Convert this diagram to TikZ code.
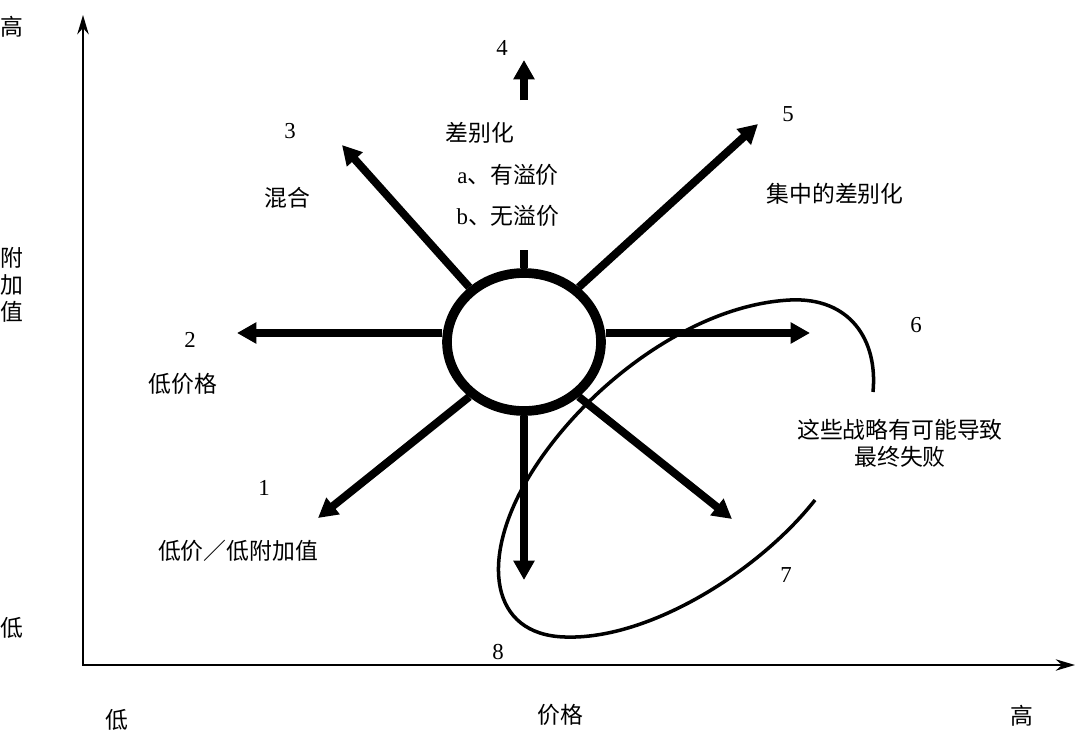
\documentclass[tikz,border=0pt]{standalone}
\usepackage{fontspec}
\setmainfont{Liberation Serif}
\newfontfamily\cjk{Noto Sans CJK SC}
\usetikzlibrary{arrows.meta,shapes.geometric}

\begin{document}
\begin{tikzpicture}[x=0.02cm, y=-0.02cm,
    every node/.style={font=\cjk\fontsize{13}{15.5}\selectfont, inner sep=1pt},
    num/.style={font=\rmfamily\fontsize{13}{15.5}\selectfont},
    axis/.style={line width=1.2pt, {Stealth[length=11pt, width=6.5pt]}-{Stealth[length=11pt, width=6.5pt]}},
    strat/.style={line width=4.5pt, -{Triangle[length=11pt, width=11.5pt]}},
    fate/.style={line width=2pt}]

    \useasboundingbox (0,0) rectangle (1080,751);

    % axes and their labels
    \coordinate (o) at (83,665);
    \coordinate (ytop) at (83,15);
    \coordinate (xend) at (1075,665);
    \draw[axis] (ytop) -- (o) -- (xend);

    \node (yhi) at (12,27) {高};
    \node[align=center] (yname) at (12,285) {附\\加\\值};
    \node (ylo) at (12,628) {低};
    \node (xlo) at (117,720) {低};
    \node (xname) at (560,715) {价格};
    \node (xhi) at (1022,716) {高};

    % core circle
    \node[ellipse, draw, line width=5.5pt, minimum width=3.08cm, minimum height=2.76cm, inner sep=0] (core) at (524,342) {};

    % strategy arrows
    \coordinate (t1) at (318,518);
    \coordinate (t2) at (237,333);
    \coordinate (t3) at (342,145);
    \coordinate (s4) at (524,250);
    \coordinate (b4) at (524,100);
    \coordinate (t4) at (524,60);
    \coordinate (t5) at (758,124);
    \coordinate (t6) at (810,333);
    \coordinate (t7) at (732,519);
    \coordinate (t8) at (524,580);

    \draw[strat] (core.225) -- (t1);
    \draw[strat] (core.west |- t2) -- (t2);
    \draw[strat] (core.135) -- (t3);
    \draw[line width=4.5pt] (core.north) -- (s4);
    \draw[strat] (b4) -- (t4);
    \draw[strat] (core.45) -- (t5);
    \draw[strat] (core.east |- t6) -- (t6);
    \draw[strat] (core.315) -- (t7);
    \draw[strat] (core.south) -- (t8);

    % numbers and strategy names
    \node[num] (n1) at (264,488) {1};
    \node (lowall) at (238,551) {低价／低附加值};
    \node[num] (n2) at (190,340) {2};
    \node (lowprice) at (183,384) {低价格};
    \node[num] (n3) at (290,131) {3};
    \node (hybrid) at (287,198) {混合};
    \node[num] (n4) at (502,48) {4};
    \node (diff) at (480,133) {差别化};
    \node (prem) at (508,175) {{\rmfamily a}、有溢价};
    \node (noprem) at (508,216) {{\rmfamily b}、无溢价};
    \node[num] (n5) at (788,114) {5};
    \node (focus) at (835,194) {集中的差别化};
    \node[num] (n6) at (916,325) {6};
    \node[num] (n7) at (786,575) {7};
    \node[num] (n8) at (498,652) {8};

    % failure loop
    \coordinate (fa) at (815,500);
    \coordinate (fb) at (873,392);
    \draw[fate] (fa) .. controls (760,570) and (650,640) .. (565,637)
        .. controls (490,635) and (480,560) .. (527,480)
        .. controls (580,390) and (690,305) .. (790,300)
        .. controls (850,297) and (878,340) .. (fb);
    \node[align=center] (fail) at (900,443) {这些战略有可能导致\\最终失败};

\end{tikzpicture}
\end{document}
